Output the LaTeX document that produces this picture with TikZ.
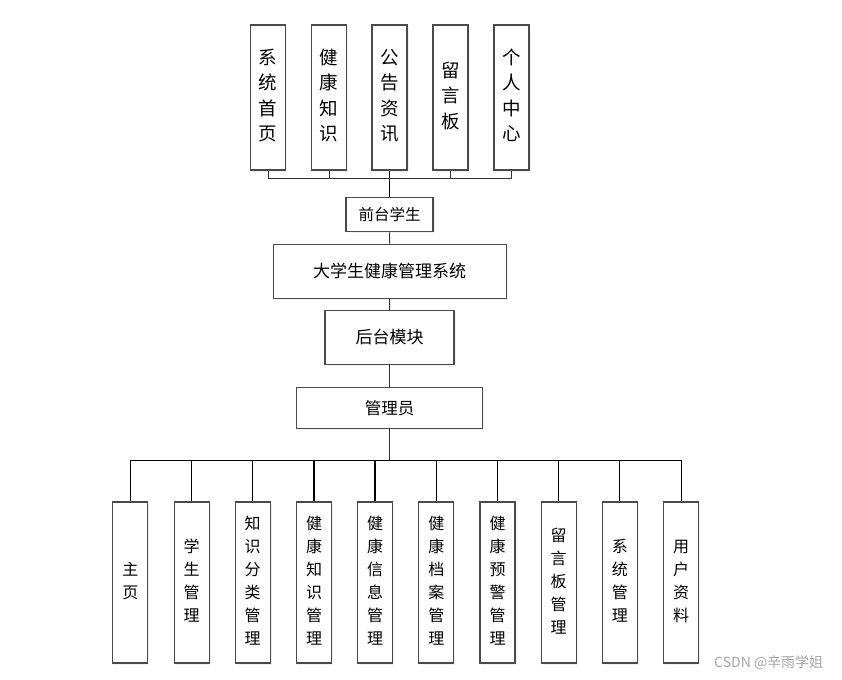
\documentclass[tikz,border=0pt]{standalone}
\usepackage{fontspec}
\setmainfont{Noto Sans CJK SC}
\usetikzlibrary{shadows}
\newcommand{\vstack}[1]{\begin{tabular}{@{}c@{}}#1\end{tabular}}
\definecolor{boxline}{HTML}{4A4A4A}
\definecolor{shadowc}{HTML}{D5E0F0}
\begin{document}
\begin{tikzpicture}[x=1pt,y=-1pt,
  boxbase/.style={draw=boxline, line width=1.2pt, fill=white, inner sep=0pt,
    drop shadow={opacity=0.4, fill=shadowc, shadow xshift=1.5pt, shadow yshift=-1.5pt}},
  topbox/.style={boxbase, minimum width=35, minimum height=145, font=\fontsize{18.5}{25.5}\selectfont},
  botbox/.style={boxbase, minimum width=35, minimum height=161, font=\fontsize{16}{23}\selectfont},
  midbox/.style={boxbase},
  conn/.style={line width=1pt, draw=black!80},
  mainconn/.style={line width=1.3pt, draw=black}]
\useasboundingbox[fill=white] (0,0) rectangle (842,679);

% top boxes
\node[topbox] (t1) at (268,97.5) {\vstack{系\\统\\首\\页}};
\node[topbox] (t2) at (329,97.5) {\vstack{健\\康\\知\\识}};
\node[topbox] (t3) at (389.5,97.5) {\vstack{公\\告\\资\\讯}};
\node[topbox] (t4) at (450.5,97.5) {\vstack{留\\言\\板}};
\node[topbox] (t5) at (511.5,97.5) {\vstack{个\\人\\中\\心}};

% middle boxes
\node[midbox, minimum width=87, minimum height=34, font=\fontsize{15.5}{18}\selectfont] (f) at (389.5,214.7) {前台学生};
\node[midbox, minimum width=233, minimum height=54, font=\fontsize{17}{20}\selectfont] (s) at (389.6,271.3) {大学生健康管理系统};
\node[midbox, minimum width=129, minimum height=53.6, font=\fontsize{17}{20}\selectfont] (h) at (389.5,337.5) {后台模块};
\node[midbox, minimum width=185.6, minimum height=40.6, font=\fontsize{16.5}{19}\selectfont] (m) at (389.5,408) {管理员};

% bottom boxes
\node[botbox] (b1) at (130.3,582.5) {\vstack{主\\页}};
\node[botbox] (b2) at (191.6,582.5) {\vstack{学\\生\\管\\理}};
\node[botbox] (b3) at (252.7,582.5) {\vstack{知\\识\\分\\类\\管\\理}};
\node[botbox] (b4) at (314,582.5) {\vstack{健\\康\\知\\识\\管\\理}};
\node[botbox] (b5) at (375,582.5) {\vstack{健\\康\\信\\息\\管\\理}};
\node[botbox] (b6) at (436.3,582.5) {\vstack{健\\康\\档\\案\\管\\理}};
\node[botbox] (b7) at (497.5,582.5) {\vstack{健\\康\\预\\警\\管\\理}};
\node[botbox] (b8) at (558.7,582.5) {\vstack{留\\言\\板\\管\\理}};
\node[botbox] (b9) at (619.8,582.5) {\vstack{系\\统\\管\\理}};
\node[botbox] (b10) at (681.2,582.5) {\vstack{用\\户\\资\\料}};

% top bus
\coordinate (tbus) at (389.5,178.7);
\foreach \i in {1,2,4,5} {\draw[conn] (t\i.south) |- (tbus);}
\draw[mainconn] (t3.south) -- (f.north);

% middle chain
\draw[conn] (f.south) -- (s.north);
\draw[conn] (s.south) -- (h.north);
\draw[conn] (h.south) -- (m.north);

% bottom bus
\coordinate (bbus) at (389.5,460.7);
\draw[conn] (m.south) -- (bbus);
\foreach \i in {1,...,10} {\draw[mainconn] (bbus) -| (b\i.north);}

% watermark
\node[text=black!35, font=\fontsize{14}{16}\selectfont, anchor=west, inner sep=0pt] (wm) at (714,663) {CSDN @辛雨学姐};
\end{tikzpicture}
\end{document}
